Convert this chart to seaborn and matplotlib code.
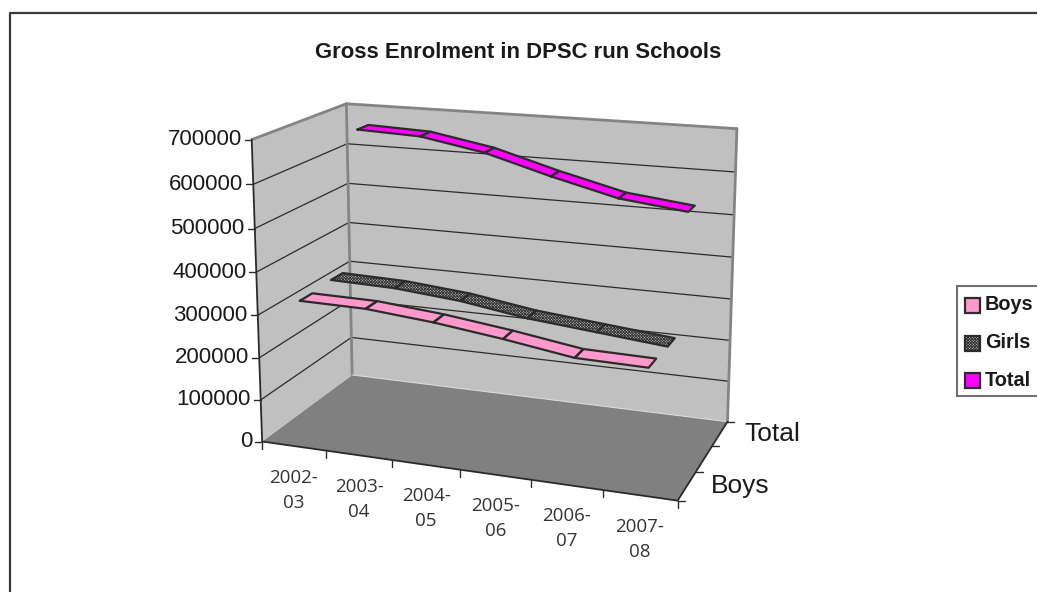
import numpy as np
import pandas as pd
import matplotlib
matplotlib.use("Agg")
import matplotlib.pyplot as plt
from matplotlib.patches import Rectangle
import seaborn as sns

categories = ["2002-\n03", "2003-\n04", "2004-\n05", "2005-\n06", "2006-\n07", "2007-\n08"]
series_names = ["Boys", "Girls", "Total"]
boys = [328000, 326000, 312000, 292000, 268000, 265000]
girls = [333000, 329000, 315000, 291000, 276000, 261000]
total = [661000, 655000, 627000, 583000, 544000, 526000]
value_ticks = [0, 100000, 200000, 300000, 400000, 500000, 600000, 700000]
depth_labels = ["Boys", "", "Total"]

ymax = 700000
fills = {"Boys": "#FF99CC", "Girls": "#C4C4C4", "Total": "#FF00FF"}
dark = "#2b2b2b"
wall_edge = "#848484"
ink = "#1a1a1a"

sns.set_theme(style="white")
plt.rcParams["font.family"] = ["Liberation Sans", "DejaVu Sans"]
plt.rcParams["hatch.linewidth"] = 0.6
plt.rcParams["hatch.color"] = "#333333"

# camera fitted on where the box corners and ticks sit in the picture
# (u along categories, v depth, w height) -> pixel
anchors = [
    (0, 0, 0, 262, 441), (1, 0, 0, 677, 500), (1, 1, 0, 727, 421), (0, 1, 0, 352, 375),
    (0, 1, 1, 346, 104), (1, 1, 1, 737, 129), (0, 0, 1, 252, 139),
    (1/6, 0, 0, 327, 451), (2/6, 0, 0, 393, 460), (3/6, 0, 0, 460, 470),
    (4/6, 0, 0, 530, 481), (5/6, 0, 0, 602, 490),
    (1, 1/3, 0, 697, 472), (1, 2/3, 0, 713, 446),
]
rows = []
for u, v, w, px, py in anchors:
    rows.append([u, v, w, 1, 0, 0, 0, 0, -px*u, -px*v, -px*w, -px])
    rows.append([0, 0, 0, 0, u, v, w, 1, -py*u, -py*v, -py*w, -py])
cam = np.linalg.svd(np.array(rows))[2][-1].reshape(3, 4)


def project(u, v, w):
    p = cam @ np.array([u, v, w, 1.0])
    return p[0] / p[2], p[1] / p[2]


fig = plt.figure(figsize=(10.37, 5.92), dpi=100)
ax = fig.add_axes([0, 0, 1, 1])
ax.set_xlim(0, 1037)
ax.set_ylim(592, 0)
ax.set_axis_off()

# outer frame
ax.plot([10, 10, 1037], [592, 13, 13], color="#3a3a3a", lw=1.6, zorder=1)

# floor and walls
floor = [project(0, 0, 0), project(1, 0, 0), project(1, 1, 0), project(0, 1, 0)]
back = [project(0, 1, 0), project(1, 1, 0), project(1, 1, 1), project(0, 1, 1)]
left = [project(0, 0, 0), project(0, 1, 0), project(0, 1, 1), project(0, 0, 1)]
ax.fill(*zip(*floor), color="#808080", lw=0, zorder=2)
ax.fill(*zip(*back), color="#C0C0C0", lw=0, zorder=2)
ax.fill(*zip(*left), color="#C0C0C0", lw=0, zorder=2)

# grid on both walls, value axis ticks and labels
for t in value_ticks:
    w = t / ymax
    x0, y0 = project(0, 0, w)
    x1, y1 = project(0, 1, w)
    x2, y2 = project(1, 1, w)
    if 0 < t < ymax:
        ax.plot([x0, x1, x2], [y0, y1, y2], color=dark, lw=0.9, zorder=3)
    ax.plot([x0 - 7, x0], [y0, y0], color=dark, lw=1, zorder=4)
    ax.text(x0 - 10, y0, str(t), ha="right", va="center", fontsize=16, color=ink)

# wall edges
for a, b in [((0, 0, 1), (0, 1, 1)), ((0, 1, 1), (1, 1, 1)), ((1, 1, 1), (1, 1, 0)), ((0, 1, 0), (0, 1, 1))]:
    pa, pb = project(*a), project(*b)
    ax.plot([pa[0], pb[0]], [pa[1], pb[1]], color=wall_edge, lw=2, zorder=4)
ax.plot(*zip(project(0, 1, 0), project(1, 1, 0)), color="#d8d8d8", lw=0.8, zorder=4)

# axis lines
ax.plot(*zip(project(0, 0, 1), project(0, 0, 0), project(1, 0, 0), project(1, 1, 0)),
        color=dark, lw=1.3, zorder=5)

# category ticks and labels
n = len(categories)
for i in range(n + 1):
    x, y = project(i / n, 0, 0)
    ax.plot([x, x], [y, y + 7], color=dark, lw=1, zorder=4)
for i, lab in enumerate(categories):
    x, y = project((i + 0.5) / n, 0, 0)
    ax.text(x, y + 44, lab, ha="center", va="center", fontsize=13.5, color="#333333",
            family="Open Sans", linespacing=1.5)

# depth ticks and labels
d = len(series_names)
for i in range(d + 1):
    x, y = project(1, i / d, 0)
    ax.plot([x, x + 7], [y, y], color=dark, lw=1, zorder=4)
for i, lab in enumerate(depth_labels):
    if lab:
        x, y = project(1, (i + 0.5) / d, 0)
        ax.text(x + 24, y, lab, ha="left", va="center", fontsize=19, color=ink)

# ribbons, back one first
half = 0.065
values = {"Boys": boys, "Girls": girls, "Total": total}
edges = []
for r in [2, 1, 0]:
    name = series_names[r]
    vals = values[name]
    vc = (r + 0.5) / d
    for i in range(n - 1):
        u0, u1 = (i + 0.5) / n, (i + 1.5) / n
        w0, w1 = vals[i] / ymax, vals[i + 1] / ymax
        quad = [project(u0, vc - half, w0), project(u1, vc - half, w1),
                project(u1, vc + half, w1), project(u0, vc + half, w0)]
        if name == "Girls":
            ax.fill(*zip(*quad), facecolor=fills[name], edgecolor="#333333", hatch="xxxxxxxxxxxx",
                    lw=0, zorder=10 + 2 * (2 - r))
        else:
            ax.fill(*zip(*quad), color=fills[name], lw=0, zorder=10 + 2 * (2 - r))
        for k, (px, py) in enumerate(quad + quad[:1]):
            edges.append({"series": name, "seg": f"{name}{i}", "order": k, "px": px, "py": py})
edges = pd.DataFrame(edges)
for r in [2, 1, 0]:
    name = series_names[r]
    sns.lineplot(data=edges[edges["series"] == name], x="px", y="py", units="seg", estimator=None,
                 sort=False, color=dark, lw=1.6, ax=ax, legend=False, zorder=11 + 2 * (2 - r))
ax.set_xlim(0, 1037)
ax.set_ylim(592, 0)
ax.set_axis_off()

ax.text(518, 52, "Gross Enrolment in DPSC run Schools", ha="center", va="center",
        fontsize=15.9, fontweight="bold", color=ink)

# legend, runs off the right side of the picture
ax.add_patch(Rectangle((957, 286), 90, 110, fc="white", ec="#707070", lw=1.5, zorder=20))
for name, yc in zip(series_names, [305, 343, 380]):
    kw = {"hatch": "xxxxxxxxxxxx"} if name == "Girls" else {}
    ax.add_patch(Rectangle((965, yc - 7.5), 15, 15, fc=fills[name], ec=dark, lw=1.6, zorder=21, **kw))
    ax.text(985, yc, name, ha="left", va="center", fontsize=14.3, fontweight="bold",
            color=ink, zorder=21)

fig.savefig("out.png", dpi=100)
